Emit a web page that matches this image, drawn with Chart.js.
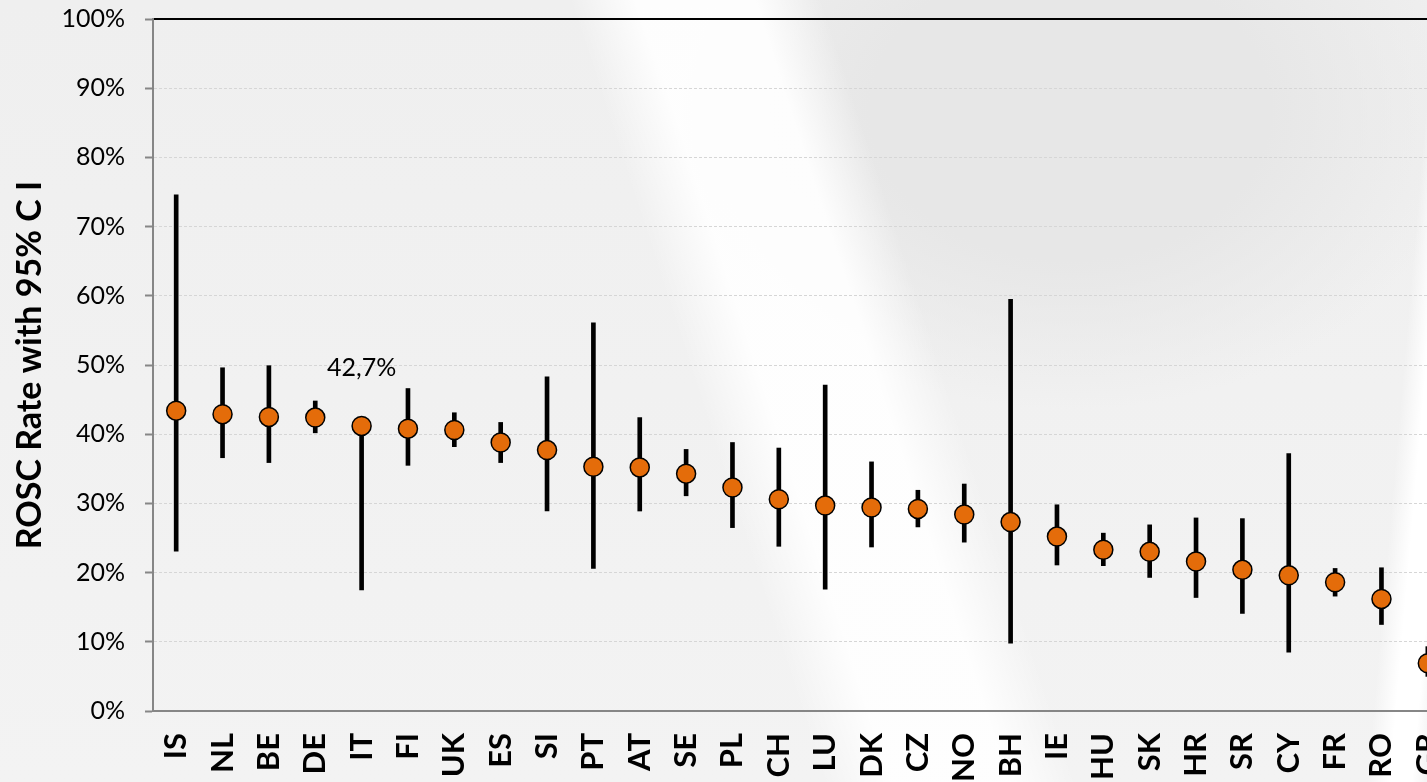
<!DOCTYPE html>
<html>
<head>
<meta charset="utf-8">
<script src="https://cdn.jsdelivr.net/npm/chart.js@4.4.0/dist/chart.umd.min.js"></script>
<style>
  html, body { margin: 0; padding: 0; overflow: hidden; }
  body {
    width: 1427px; height: 782px;
    background:
      linear-gradient(72deg, rgba(255,255,255,0) 49%, rgba(255,255,255,0.9) 53%, rgba(255,255,255,0.9) 60%, rgba(255,255,255,0) 64%),
      linear-gradient(95deg, rgba(255,255,255,0) 96%, #ffffff 97.5%, #ffffff 99%, rgba(255,255,255,0) 100%),
      radial-gradient(ellipse 400px 300px at 1070px 110px, #e7e7e7 50%, rgba(231,231,231,0) 100%),
      linear-gradient(180deg, #efefef 0%, #f3f3f3 100%);
  }
  #wrap { width: 1462px; height: 782px; }
</style>
</head>
<body>
<div id="wrap"><canvas id="myChart"></canvas></div>
<script>
// countries, ROSC rate and 95% CI (percent)
const countries = ['IS','NL','BE','DE','IT','FI','UK','ES','SI','PT','AT','SE','PL','CH','LU','DK','CZ','NO','BH','IE','HU','SK','HR','SR','CY','FR','RO','GR'];
const rosc   = [43.4, 42.9, 42.5, 42.4, 41.2, 40.8, 40.6, 38.8, 37.7, 35.3, 35.2, 34.3, 32.3, 30.6, 29.7, 29.4, 29.2, 28.4, 27.3, 25.2, 23.3, 23.0, 21.6, 20.4, 19.6, 18.6, 16.2, 6.9];
const ciLow  = [23.1, 36.6, 35.9, 40.2, 17.5, 35.5, 38.2, 35.9, 28.9, 20.6, 28.9, 31.1, 26.5, 23.8, 17.6, 23.7, 26.6, 24.4, 9.8, 21.1, 21.0, 19.3, 16.4, 14.1, 8.5, 16.6, 12.5, 5.0];
const ciHigh = [74.6, 49.6, 49.9, 44.8, 41.5, 46.6, 43.1, 41.7, 48.3, 56.1, 42.4, 37.8, 38.8, 38.0, 47.1, 36.0, 31.9, 32.8, 59.5, 29.8, 25.7, 26.9, 27.9, 27.8, 37.2, 20.6, 20.7, 9.3];
const yTicks = [0, 10, 20, 30, 40, 50, 60, 70, 80, 90, 100];
const note = { text: '42,7%', index: 4, value: 49.6 };

const noteLabel = {
  id: 'noteLabel',
  afterDatasetsDraw(chart) {
    const c = chart.ctx;
    c.save();
    c.font = '25px Lato';
    c.fillStyle = '#000';
    c.textAlign = 'center';
    c.textBaseline = 'middle';
    c.fillText(note.text, chart.scales.x.getPixelForValue(note.index), chart.scales.y.getPixelForValue(note.value));
    c.restore();
  }
};

// fixed box sizes so the plot area lands where the original one is
const fixBox = (w, h) => (axis) => {
  if (w !== null) axis.width = w;
  if (h !== null) axis.height = h;
  axis.paddingLeft = axis.paddingRight = axis.paddingTop = axis.paddingBottom = 0;
};

var ctx = document.getElementById('myChart').getContext('2d');
var chart = new Chart(ctx, {
  data: {
    labels: countries,
    datasets: [
      {
        type: 'line',
        label: 'ROSC',
        data: rosc,
        showLine: false,
        pointRadius: 9.5,
        pointHoverRadius: 9.5,
        pointBackgroundColor: '#E46C0A',
        pointBorderColor: '#000',
        pointBorderWidth: 1.5,
        order: 0
      },
      {
        type: 'bar',
        label: '95% CI',
        data: countries.map((c, i) => [ciLow[i], ciHigh[i]]),
        backgroundColor: '#000',
        barThickness: 4,
        order: 1
      }
    ]
  },
  options: {
    responsive: true,
    maintainAspectRatio: false,
    animation: false,
    layout: { padding: { left: 10, top: 0, right: 0, bottom: 0 } },
    plugins: { legend: { display: false }, tooltip: { enabled: false } },
    scales: {
      x: {
        type: 'category',
        offset: true,
        afterFit: fixBox(null, 71),
        grid: { drawOnChartArea: false, drawTicks: false },
        border: { color: '#868686', width: 2 },
        ticks: {
          minRotation: 90, maxRotation: 90, autoSkip: false,
          padding: 22, color: '#000',
          font: { family: 'Lato', size: 31, weight: 'bold' }
        }
      },
      top: {
        type: 'category',
        position: 'top',
        offset: true,
        afterFit: fixBox(null, 19),
        grid: { display: false, drawTicks: false },
        border: { color: '#000', width: 2 },
        ticks: { display: false }
      },
      y: {
        min: 0, max: 100,
        afterBuildTicks: (axis) => { axis.ticks = yTicks.map(v => ({ value: v })); },
        afterFit: fixBox(143, null),
        grid: { color: '#d6d6d6', lineWidth: 1, tickLength: 8, tickColor: '#868686', tickWidth: 2 },
        border: { color: '#868686', width: 2, dash: [3, 2] },
        ticks: {
          padding: 20, color: '#000',
          font: { family: 'Lato', size: 25 },
          callback: (v) => v + '%'
        },
        title: {
          display: true, text: 'ROSC Rate with 95% C I', color: '#000',
          font: { family: 'Lato', size: 34, weight: 'bold' },
          padding: { top: 0, bottom: 12 }
        }
      }
    }
  },
  plugins: [noteLabel]
});
</script>
</body>
</html>
